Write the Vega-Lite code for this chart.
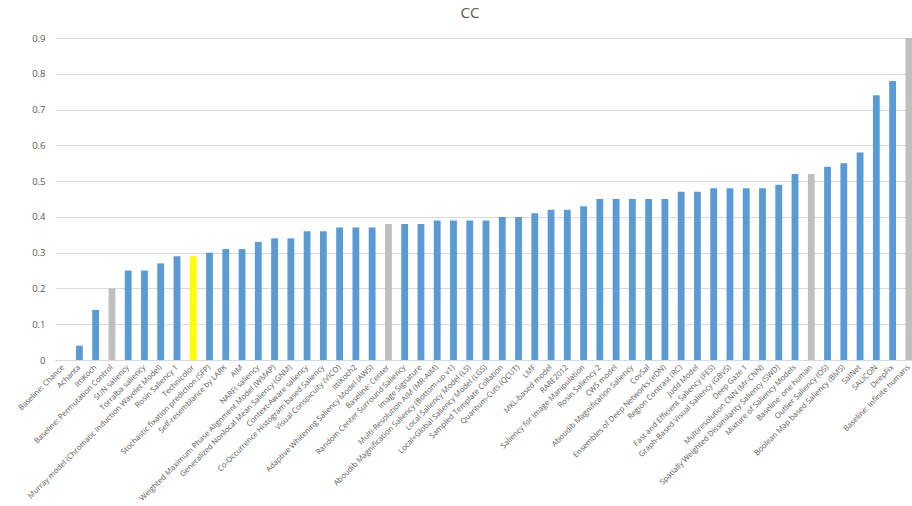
{
  "$schema": "https://vega.github.io/schema/vega-lite/v6.json",
  "autosize": {"type": "none"},
  "padding": {"left": 55, "top": 38, "right": 0, "bottom": 146},
  "width": 862,
  "height": 322,
  "background": "white",
  "title": {
    "text": "CC",
    "fontSize": 15,
    "font": "Open Sans",
    "fontWeight": "normal",
    "color": "#595959",
    "anchor": "middle",
    "dx": -16,
    "offset": 12
  },
  "data": {
    "values": [
      {"model": "Baseline: Chance", "cc": 0.0, "group": "baseline"},
      {"model": "Achanta", "cc": 0.04, "group": "model"},
      {"model": "IttiKoch", "cc": 0.14, "group": "model"},
      {"model": "Baseline: Permutation Control", "cc": 0.2, "group": "baseline"},
      {"model": "SUN saliency", "cc": 0.25, "group": "model"},
      {"model": "Torralba saliency", "cc": 0.25, "group": "model"},
      {"model": "Murray model (Chromatic Induction Wavelet Model)", "cc": 0.27, "group": "model"},
      {"model": "Rosin Saliency 1", "cc": 0.29, "group": "model"},
      {"model": "Technicolor", "cc": 0.29, "group": "highlight"},
      {"model": "Stochastic fixation prediction (SFP)", "cc": 0.3, "group": "model"},
      {"model": "Self-resemblance by LARK", "cc": 0.31, "group": "model"},
      {"model": "AIM", "cc": 0.31, "group": "model"},
      {"model": "NARFI saliency", "cc": 0.33, "group": "model"},
      {"model": "Weighted Maximum Phase Alignment Model (WMAP)", "cc": 0.34, "group": "model"},
      {"model": "Generalized Nonlocal Mean Saliency (GNM)", "cc": 0.34, "group": "model"},
      {"model": "Context-Aware saliency", "cc": 0.36, "group": "model"},
      {"model": "Co-Occurrence Histogram based Saliency", "cc": 0.36, "group": "model"},
      {"model": "Visual Conspicuity (VICO)", "cc": 0.37, "group": "model"},
      {"model": "IttiKoch2", "cc": 0.37, "group": "model"},
      {"model": "Adaptive Whitening Saliency Model (AWS)", "cc": 0.37, "group": "model"},
      {"model": "Baseline: Center", "cc": 0.38, "group": "baseline"},
      {"model": "Random Center Surround Saliency", "cc": 0.38, "group": "model"},
      {"model": "Image Signature", "cc": 0.38, "group": "model"},
      {"model": "Multi-Resolution AIM (MR-AIM)", "cc": 0.39, "group": "model"},
      {"model": "Aboudib Magnification Saliency (Bottom-up v1)", "cc": 0.39, "group": "model"},
      {"model": "Local Saliency Model (LS)", "cc": 0.39, "group": "model"},
      {"model": "Local+Global Saliency Model (LGS)", "cc": 0.39, "group": "model"},
      {"model": "Sampled Template Collation", "cc": 0.4, "group": "model"},
      {"model": "Quantum-Cuts (QCUT)", "cc": 0.4, "group": "model"},
      {"model": "LMF", "cc": 0.41, "group": "model"},
      {"model": "MKL-based model", "cc": 0.42, "group": "model"},
      {"model": "RARE2012", "cc": 0.42, "group": "model"},
      {"model": "Saliency for Image Manipulation", "cc": 0.43, "group": "model"},
      {"model": "Rosin Saliency 2", "cc": 0.45, "group": "model"},
      {"model": "CWS model", "cc": 0.45, "group": "model"},
      {"model": "Aboudib Magnification Saliency", "cc": 0.45, "group": "model"},
      {"model": "CovSal", "cc": 0.45, "group": "model"},
      {"model": "Ensembles of Deep Networks (eDN)", "cc": 0.45, "group": "model"},
      {"model": "Region Contrast (RC)", "cc": 0.47, "group": "model"},
      {"model": "Judd Model", "cc": 0.47, "group": "model"},
      {"model": "Fast and Efficient Saliency (FES)", "cc": 0.48, "group": "model"},
      {"model": "Graph-Based Visual Saliency (GBVS)", "cc": 0.48, "group": "model"},
      {"model": "Deep Gaze 1", "cc": 0.48, "group": "model"},
      {"model": "Multiresolution CNN (Mr-CNN)", "cc": 0.48, "group": "model"},
      {"model": "Spatially Weighted Dissimilarity Saliency (SWD)", "cc": 0.49, "group": "model"},
      {"model": "Mixture of Saliency Models", "cc": 0.52, "group": "model"},
      {"model": "Baseline: one human", "cc": 0.52, "group": "baseline"},
      {"model": "Outlier Saliency (OS)", "cc": 0.54, "group": "model"},
      {"model": "Boolean Map based Saliency (BMS)", "cc": 0.55, "group": "model"},
      {"model": "SalNet", "cc": 0.58, "group": "model"},
      {"model": "SALICON", "cc": 0.74, "group": "model"},
      {"model": "DeepFix", "cc": 0.78, "group": "model"},
      {"model": "Baseline: infinite humans", "cc": 0.9, "group": "baseline"}
    ]
  },
  "mark": {"type": "bar", "stroke": null},
  "encoding": {
    "x": {
      "field": "model",
      "type": "nominal",
      "sort": null,
      "title": null,
      "scale": {"paddingInner": 0.58, "paddingOuter": 0.29},
      "axis": {
        "labelAngle": -45,
        "labelAlign": "right",
        "labelBaseline": "middle",
        "labelFontSize": 7.7,
        "labelFont": "Open Sans",
        "labelColor": "#595959",
        "labelPadding": 6,
        "labelOverlap": false,
        "labelLimit": 0,
        "ticks": false,
        "domainColor": "#d9d9d9",
        "domainWidth": 1,
        "grid": false
      }
    },
    "y": {
      "field": "cc",
      "type": "quantitative",
      "title": null,
      "scale": {"domain": [0, 0.9], "nice": false},
      "axis": {
        "values": [0, 0.1, 0.2, 0.3, 0.4, 0.5, 0.6, 0.7, 0.8, 0.9],
        "format": ".1~f",
        "labelFontSize": 9.5,
        "labelFont": "Open Sans",
        "labelColor": "#595959",
        "labelPadding": 10,
        "ticks": false,
        "domain": false,
        "gridColor": "#d9d9d9",
        "gridWidth": 1
      }
    },
    "color": {
      "field": "group",
      "type": "nominal",
      "legend": null,
      "scale": {
        "domain": ["model", "baseline", "highlight"],
        "range": ["#5B9BD5", "#BFBFBF", "#FFFF00"]
      }
    }
  },
  "config": {"view": {"stroke": null}}
}
